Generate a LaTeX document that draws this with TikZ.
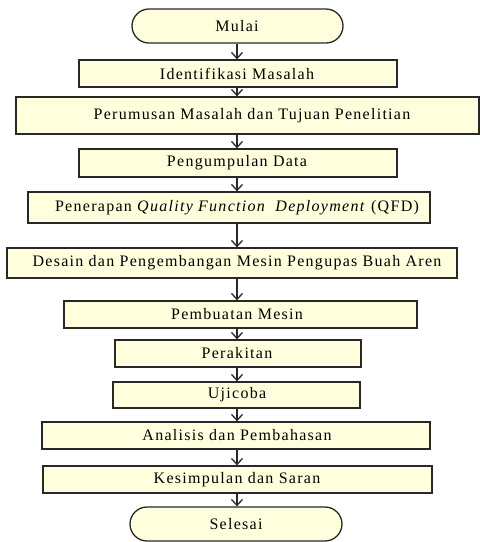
\documentclass[tikz,border=0pt]{standalone}
\usepackage{fontspec}
\setmainfont{Liberation Serif}[LetterSpace=8]
\usetikzlibrary{arrows.meta}
\definecolor{cream}{RGB}{255,255,221}
\definecolor{edge}{RGB}{40,40,40}
\tikzset{
  stepbox/.style={draw=edge, fill=cream, line width=1.3pt, inner sep=0pt, minimum height=27pt},
  termbox/.style={stepbox, rounded corners=17pt, minimum height=34pt},
  txt/.style={inner sep=0pt, font=\fontsize{16}{19}\selectfont, text=black},
  flow/.style={draw=edge, line width=1.3pt, -{Straight Barb[length=6pt,width=11pt,line width=1.3pt]}}
}
\begin{document}
\begin{tikzpicture}[x=1pt,y=-1pt]
\useasboundingbox (0,0) rectangle (480,542);
\node[termbox, minimum width=211pt] (b1) at (237.5,26) {};
\node[txt] (t1) at (237,26) {Mulai};
\node[stepbox, minimum width=318pt] (b2) at (238,73.5) {};
\node[txt] (t2) at (237,73.5) {Identifikasi Masalah};
\node[stepbox, minimum width=463pt, minimum height=37pt] (b3) at (247.5,115.5) {};
\node[txt] (t3) at (252,115.5) {Perumusan Masalah dan Tujuan Penelitian};
\node[stepbox, minimum width=318pt, minimum height=28pt] (b4) at (238,163) {};
\node[txt] (t4) at (237,163) {Pengumpulan Data};
\node[stepbox, minimum width=402pt, minimum height=31pt] (b5) at (229,207.5) {};
\node[txt] (t5) at (237,207.5) {Penerapan \textit{Quality Function\ \ Deployment} (QFD)};
\node[stepbox, minimum width=450pt, minimum height=30pt] (b6) at (232,263) {};
\node[txt] (t6) at (237,263) {Desain dan Pengembangan Mesin Pengupas Buah Aren};
\node[stepbox, minimum width=353pt] (b7) at (240.5,314.5) {};
\node[txt] (t7) at (237,314.5) {Pembuatan Mesin};
\node[stepbox, minimum width=246pt] (b8) at (238,353.5) {};
\node[txt] (t8) at (237,353.5) {Perakitan};
\node[stepbox, minimum width=247pt, minimum height=26pt] (b9) at (236.5,395) {};
\node[txt] (t9) at (237,395) {Ujicoba};
\node[stepbox, minimum width=388pt] (b10) at (236,435.5) {};
\node[txt] (t10) at (237,435.5) {Analisis dan Pembahasan};
\node[stepbox, minimum width=389pt] (b11) at (237.5,479.5) {};
\node[txt] (t11) at (237,479.5) {Kesimpulan dan Saran};
\node[termbox, minimum width=212pt] (b12) at (236,524) {};
\node[txt] (t12) at (236,524) {Selesai};
\foreach \a/\b in {b1/b2,b2/b3,b3/b4,b4/b5,b5/b6,b6/b7,b7/b8,b8/b9,b9/b10,b10/b11,b11/b12}
  \draw[flow] (\a.south -| 237,0) -- (\b.north -| 237,0);
\end{tikzpicture}
\end{document}
